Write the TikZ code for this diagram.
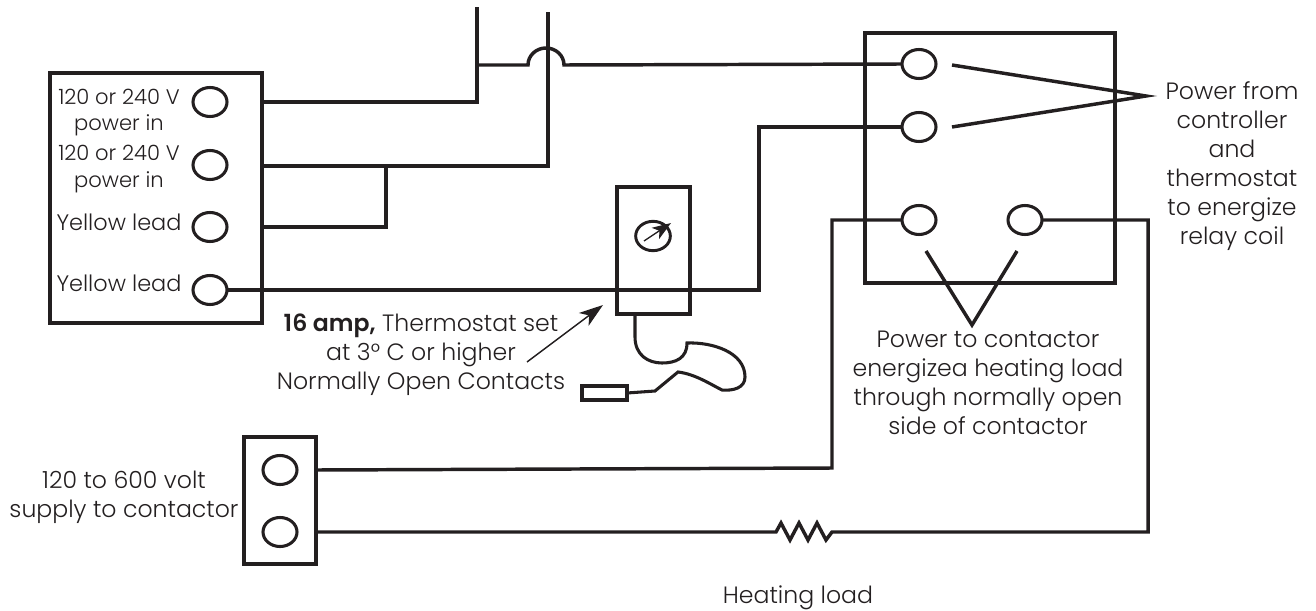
\documentclass[tikz,border=0pt]{standalone}
\usepackage{fontspec}
\setmainfont{Poppins}[UprightFont=* Light,BoldFont=* SemiBold]
\usetikzlibrary{arrows.meta,shapes.geometric}
\definecolor{ink}{HTML}{231F20}
\tikzset{
  wire/.style={draw=ink,line width=2.6pt,line join=miter},
  boxn/.style={draw=ink,line width=2.8pt,inner sep=0pt,outer sep=0pt},
  term/.style={draw=ink,line width=2.3pt,ellipse,minimum width=25.5pt,minimum height=21.75pt,inner sep=0pt,outer sep=0pt},
  lead/.style={draw=ink,line width=2.3pt},
  lbl/.style={text=ink,font=\fontsize{17.7}{21.75}\selectfont,align=center,inner sep=0pt},
  lbls/.style={lbl,font=\fontsize{15.8}{20}\selectfont},
  lbly/.style={lbl,font=\fontsize{16.8}{20}\selectfont},
}
\begin{document}
\begin{tikzpicture}[x=0.75pt,y=-0.75pt]
\useasboundingbox (0,0) rectangle (1316,610);
% boxes
\node[boxn,minimum width=159pt,minimum height=187.5pt] (ctrl) at (156,198) {};
\node[boxn,minimum width=187.5pt,minimum height=187.5pt] (relay) at (990,158) {};
\node[boxn,minimum width=54.75pt,minimum height=95.25pt] (tstat) at (653.5,250.5) {};
\node[boxn,minimum width=54pt,minimum height=95.25pt] (sup) at (280,500.5) {};
\node[boxn,line width=2.6pt,minimum width=33.75pt,minimum height=10.5pt] (bulb) at (604.5,393) {};
% terminals
\node[term] (a1) at (210,102) {};
\node[term] (a2) at (210,165) {};
\node[term] (a3) at (210,227) {};
\node[term] (a4) at (210,290) {};
\node[term] (r1) at (919,64) {};
\node[term] (r2) at (919,127) {};
\node[term] (r3) at (919,220) {};
\node[term] (r4) at (1025,220) {};
\node[term] (s1) at (280,470) {};
\node[term] (s2) at (280,532) {};
\node[draw=ink,line width=2.2pt,ellipse,minimum width=26pt,minimum height=22pt,inner sep=0pt,outer sep=0pt] (gauge) at (653,236) {};
% free ends and junctions
\coordinate (t1) at (477,7);
\coordinate (t2) at (548,12);
\coordinate (j1) at (477,65);
\coordinate (j2) at (386,166);
\coordinate (p) at (1146,96);
\coordinate (p1) at (952,65);
\coordinate (p2) at (952,127);
\coordinate (v) at (972,325);
\coordinate (v1) at (926,251);
\coordinate (v2) at (1017,251);
\coordinate (needleA) at (644,241);
\coordinate (needleB) at (671,223);
\coordinate (arrA) at (527,362);
\coordinate (arrB) at (603,305);
\coordinate (c0) at (635,314);
% wires
\draw[wire] (ctrl.east|-a1) -- (477,102) -- (t1);
\draw[wire] (j1) -- (528,65) arc[start angle=180,end angle=360,x radius=18,y radius=17] -- (r1.west);
\draw[wire] (ctrl.east|-j2) -- (548,166) -- (t2);
\draw[wire] (j2) -- (386,227) -- (ctrl.east|-a3);
\draw[wire] (a4.east) -- (759,290) -- (759,127) -- (r2.west);
\draw[wire] (r3.west) -- (832,220) -- (832,468) -- (sup.east|-s1);
\draw[wire] (r4.east) -- (1148,220) -- (1148,532) -- (832,532) -- (826,540) -- (817,523) -- (808,540) -- (799,523) -- (790,540) -- (781,523) -- (776,532) -- (sup.east|-s2);
% callouts
\draw[wire] (p1) -- (p) -- (p2);
\draw[wire] (v1) -- (v) -- (v2);
% thermostat arrow, needle, bulb lead
\draw[draw=ink,line width=1.1pt,-{Stealth[length=18pt,width=12pt,inset=5pt]}] (arrA) -- (arrB);
\draw[draw=ink,line width=1pt,-{Stealth[length=14pt,width=10pt,inset=3.5pt]}] (needleA) -- (needleB);
\draw[lead] (c0) -- (635,337) .. controls (635,355) and (648,363) .. (662,363) .. controls (676,363) and (687,358) .. (687,343) .. controls (712,342) and (745,352) .. (745,377) .. controls (745,388) and (733,391) .. (722,390) .. controls (710,384) and (695,374) .. (678,372) -- (655,391) -- (bulb.east);
% labels
\node[lbls] (l1) at (119,112.5) {120 or 240 V\\power in};
\node[lbls] (l2) at (119,169) {120 or 240 V\\power in};
\node[lbly] (l3) at (119,222) {Yellow lead};
\node[lbly] (l4) at (119,283) {Yellow lead};
\node[lbl] (l5) at (1232,166) {Power from\\controller\\and\\thermostat\\to energize\\relay coil};
\node[lbl] (l6) at (988,382.5) {Power to contactor\\energizea heating load\\through normally open\\side of contactor};
\node[lbl] (l7) at (421,355) {\textbf{16 amp,} Thermostat set\\at 3° C or higher\\Normally Open Contacts};
\node[lbl] (l8) at (124,497.5) {120 to 600 volt\\supply to contactor};
\node[lbl] (l9) at (798,598) {Heating load};
\end{tikzpicture}
\end{document}
